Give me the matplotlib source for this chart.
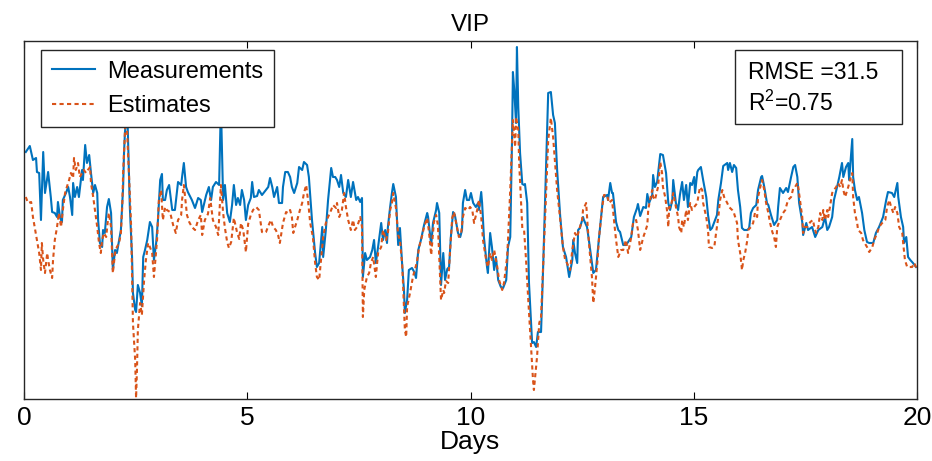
import matplotlib
matplotlib.use("Agg")
import matplotlib.pyplot as plt
from matplotlib.patches import Rectangle

# VIP concentration over 20 days: measured vs. model estimate
meas_days = [
    0.04, 0.13, 0.20, 0.27, 0.29, 0.34, 0.38, 0.43, 0.47, 0.54, 0.60, 0.63, 0.69, 0.74, 0.76, 0.81,
    0.85, 0.87, 0.94, 0.99, 1.03, 1.08, 1.10, 1.14, 1.19, 1.23, 1.30, 1.32, 1.37, 1.41, 1.46, 1.50,
    1.55, 1.59, 1.64, 1.66, 1.70, 1.75, 1.77, 1.81, 1.86, 1.90, 1.95, 1.99, 2.04, 2.08, 2.13, 2.17,
    2.22, 2.24, 2.26, 2.31, 2.33, 2.37, 2.42, 2.44, 2.49, 2.51, 2.55, 2.60, 2.64, 2.67, 2.71, 2.76,
    2.82, 2.87, 2.91, 2.96, 3.00, 3.05, 3.09, 3.11, 3.16, 3.20, 3.25, 3.32, 3.38, 3.45, 3.52, 3.54,
    3.58, 3.63, 3.67, 3.76, 3.83, 3.90, 3.96, 3.99, 4.08, 4.14, 4.19, 4.23, 4.30, 4.37, 4.41, 4.46,
    4.50, 4.55, 4.61, 4.66, 4.70, 4.75, 4.79, 4.84, 4.88, 4.93, 4.97, 5.02, 5.08, 5.11, 5.15, 5.22,
    5.26, 5.33, 5.40, 5.47, 5.51, 5.56, 5.60, 5.67, 5.71, 5.78, 5.80, 5.85, 5.91, 5.96, 6.00, 6.05,
    6.12, 6.16, 6.23, 6.27, 6.34, 6.38, 6.45, 6.52, 6.56, 6.61, 6.68, 6.70, 6.76, 6.81, 6.88, 6.92,
    6.97, 7.01, 7.06, 7.10, 7.15, 7.21, 7.26, 7.32, 7.37, 7.44, 7.48, 7.53, 7.57, 7.59, 7.64, 7.68,
    7.75, 7.80, 7.84, 7.88, 7.93, 8.00, 8.04, 8.09, 8.13, 8.15, 8.20, 8.24, 8.27, 8.33, 8.38, 8.42,
    8.47, 8.51, 8.53, 8.58, 8.62, 8.69, 8.74, 8.78, 8.83, 8.89, 8.96, 9.03, 9.05, 9.12, 9.16, 9.23,
    9.25, 9.30, 9.34, 9.39, 9.43, 9.48, 9.52, 9.56, 9.61, 9.65, 9.72, 9.77, 9.81, 9.83, 9.88, 9.92,
    9.97, 10.01, 10.06, 10.12, 10.17, 10.19, 10.24, 10.26, 10.30, 10.37, 10.39, 10.44, 10.48, 10.53, 10.57, 10.62,
    10.68, 10.73, 10.80, 10.84, 10.89, 10.93, 10.95, 10.98, 11.02, 11.04, 11.07, 11.11, 11.16, 11.20, 11.22, 11.27,
    11.31, 11.38, 11.42, 11.47, 11.51, 11.58, 11.63, 11.69, 11.74, 11.80, 11.85, 11.89, 11.94, 12.01, 12.07, 12.14,
    12.21, 12.28, 12.30, 12.34, 12.39, 12.41, 12.45, 12.52, 12.54, 12.61, 12.66, 12.75, 12.81, 12.88, 12.97, 13.06,
    13.08, 13.13, 13.17, 13.19, 13.26, 13.31, 13.35, 13.42, 13.48, 13.53, 13.60, 13.66, 13.73, 13.75, 13.80, 13.87,
    13.93, 13.96, 14.00, 14.07, 14.09, 14.13, 14.18, 14.25, 14.31, 14.38, 14.43, 14.47, 14.52, 14.54, 14.60, 14.65,
    14.69, 14.74, 14.78, 14.83, 14.87, 14.92, 14.96, 15.01, 15.03, 15.08, 15.10, 15.16, 15.21, 15.28, 15.32, 15.37,
    15.41, 15.46, 15.52, 15.55, 15.61, 15.66, 15.75, 15.77, 15.81, 15.86, 15.90, 15.95, 15.99, 16.04, 16.08, 16.13,
    16.20, 16.24, 16.28, 16.33, 16.40, 16.44, 16.51, 16.53, 16.58, 16.64, 16.67, 16.73, 16.80, 16.87, 16.89, 16.93,
    17.00, 17.07, 17.11, 17.18, 17.23, 17.27, 17.32, 17.36, 17.43, 17.45, 17.52, 17.56, 17.65, 17.72, 17.79, 17.88,
    17.94, 17.99, 18.03, 18.10, 18.14, 18.21, 18.26, 18.32, 18.35, 18.41, 18.46, 18.48, 18.55, 18.57, 18.61, 18.66,
    18.70, 18.77, 18.82, 18.88, 18.93, 19.02, 19.08, 19.15, 19.24, 19.31, 19.35, 19.44, 19.49, 19.56, 19.58, 19.64,
    19.69, 19.71, 19.76, 19.80, 19.85, 19.91, 19.98,
]
meas_vals = [
    247, 253, 239, 241, 227, 226, 179, 247, 206, 227, 202, 187, 186, 182, 197, 181,
    177, 199, 206, 212, 202, 184, 216, 202, 212, 202, 229, 219, 254, 236, 244, 226,
    206, 214, 206, 179, 156, 152, 169, 166, 192, 200, 186, 129, 149, 146, 159, 169,
    212, 246, 266, 294, 259, 192, 142, 106, 89, 87, 114, 106, 93, 142, 149, 159,
    177, 172, 139, 156, 179, 219, 225, 199, 199, 209, 214, 189, 189, 217, 214, 222,
    236, 212, 207, 199, 191, 201, 199, 187, 204, 212, 199, 212, 217, 214, 295, 199,
    214, 186, 177, 194, 214, 194, 201, 194, 209, 199, 179, 194, 201, 217, 202, 203,
    209, 204, 208, 212, 221, 212, 202, 212, 196, 196, 212, 227, 227, 222, 212, 206,
    216, 232, 229, 237, 234, 222, 179, 146, 132, 136, 172, 142, 169, 199, 231, 222,
    222, 219, 212, 224, 206, 202, 219, 202, 217, 199, 202, 197, 201, 122, 146, 139,
    142, 149, 159, 136, 152, 176, 159, 169, 156, 172, 192, 206, 215, 202, 154, 171,
    134, 109, 86, 99, 129, 131, 127, 121, 149, 159, 174, 186, 182, 154, 176, 189,
    196, 186, 114, 146, 119, 130, 132, 162, 187, 184, 166, 162, 169, 196, 209, 199,
    199, 206, 196, 192, 196, 189, 207, 196, 162, 132, 126, 166, 152, 129, 142, 119,
    112, 111, 119, 152, 162, 259, 327, 309, 276, 352, 292, 246, 215, 214, 215, 196,
    116, 56, 57, 52, 67, 67, 136, 229, 306, 307, 284, 276, 229, 182, 152, 142,
    122, 139, 159, 146, 136, 169, 171, 182, 179, 172, 156, 126, 129, 162, 202, 204,
    199, 216, 206, 206, 177, 169, 167, 154, 154, 157, 162, 182, 191, 195, 183, 192,
    191, 205, 196, 204, 224, 212, 217, 245, 244, 226, 196, 189, 199, 219, 196, 189,
    204, 217, 199, 214, 192, 216, 214, 222, 206, 227, 229, 232, 219, 202, 184, 169,
    171, 177, 184, 199, 216, 233, 236, 229, 236, 227, 234, 231, 209, 192, 171, 169,
    169, 171, 186, 191, 194, 209, 222, 223, 212, 196, 194, 184, 174, 179, 192, 211,
    206, 211, 207, 222, 232, 234, 222, 196, 177, 164, 176, 169, 172, 162, 169, 172,
    182, 169, 172, 182, 199, 212, 222, 236, 222, 232, 236, 219, 260, 222, 209, 199,
    202, 186, 169, 157, 156, 156, 166, 172, 182, 199, 207, 206, 202, 216, 202, 182,
    172, 156, 162, 142, 139, 136, 132,
]

est_days = [
    0.04, 0.09, 0.16, 0.20, 0.25, 0.29, 0.34, 0.38, 0.40, 0.43, 0.47, 0.52, 0.54, 0.58, 0.63, 0.65,
    0.69, 0.74, 0.78, 0.83, 0.87, 0.92, 0.96, 1.01, 1.05, 1.10, 1.12, 1.16, 1.21, 1.25, 1.30, 1.34,
    1.39, 1.43, 1.48, 1.50, 1.55, 1.59, 1.64, 1.68, 1.72, 1.75, 1.79, 1.84, 1.88, 1.90, 1.95, 1.99,
    2.04, 2.08, 2.13, 2.17, 2.20, 2.22, 2.26, 2.28, 2.31, 2.35, 2.40, 2.42, 2.44, 2.49, 2.51, 2.53,
    2.55, 2.60, 2.64, 2.69, 2.73, 2.78, 2.82, 2.87, 2.91, 2.98, 3.02, 3.07, 3.11, 3.16, 3.20, 3.27,
    3.34, 3.40, 3.45, 3.52, 3.54, 3.58, 3.65, 3.70, 3.76, 3.83, 3.90, 3.96, 3.99, 4.05, 4.12, 4.17,
    4.23, 4.30, 4.35, 4.41, 4.46, 4.50, 4.55, 4.59, 4.64, 4.70, 4.77, 4.82, 4.86, 4.91, 4.97, 5.02,
    5.08, 5.13, 5.20, 5.26, 5.33, 5.38, 5.42, 5.49, 5.53, 5.58, 5.64, 5.69, 5.73, 5.80, 5.87, 5.91,
    5.96, 6.00, 6.03, 6.07, 6.12, 6.18, 6.23, 6.27, 6.32, 6.36, 6.41, 6.47, 6.52, 6.56, 6.61, 6.68,
    6.70, 6.76, 6.81, 6.88, 6.92, 6.99, 7.01, 7.06, 7.12, 7.17, 7.21, 7.26, 7.32, 7.37, 7.41, 7.46,
    7.53, 7.57, 7.59, 7.62, 7.68, 7.73, 7.77, 7.82, 7.88, 7.93, 8.00, 8.04, 8.11, 8.15, 8.20, 8.24,
    8.27, 8.33, 8.38, 8.42, 8.47, 8.49, 8.53, 8.56, 8.58, 8.65, 8.71, 8.80, 8.85, 8.92, 8.96, 9.03,
    9.07, 9.12, 9.18, 9.23, 9.27, 9.34, 9.39, 9.41, 9.45, 9.50, 9.54, 9.59, 9.63, 9.70, 9.74, 9.79,
    9.83, 9.88, 9.95, 9.99, 10.04, 10.08, 10.15, 10.19, 10.24, 10.28, 10.35, 10.39, 10.44, 10.48, 10.53, 10.60,
    10.64, 10.71, 10.75, 10.82, 10.84, 10.89, 10.93, 10.95, 11.00, 11.02, 11.07, 11.09, 11.16, 11.20, 11.24, 11.29,
    11.36, 11.40, 11.42, 11.49, 11.54, 11.58, 11.63, 11.69, 11.74, 11.80, 11.85, 11.89, 11.94, 12.01, 12.07, 12.12,
    12.16, 12.23, 12.28, 12.34, 12.39, 12.43, 12.50, 12.52, 12.59, 12.63, 12.68, 12.72, 12.75, 12.79, 12.84, 12.88,
    12.95, 12.99, 13.06, 13.10, 13.17, 13.22, 13.26, 13.31, 13.37, 13.42, 13.48, 13.53, 13.60, 13.64, 13.71, 13.75,
    13.80, 13.87, 13.91, 13.96, 13.98, 14.02, 14.07, 14.09, 14.13, 14.20, 14.25, 14.29, 14.31, 14.36, 14.40, 14.43,
    14.45, 14.49, 14.54, 14.60, 14.65, 14.67, 14.72, 14.74, 14.78, 14.83, 14.87, 14.92, 14.96, 15.01, 15.08, 15.10,
    15.14, 15.19, 15.21, 15.28, 15.32, 15.34, 15.41, 15.46, 15.50, 15.55, 15.59, 15.64, 15.68, 15.75, 15.79, 15.86,
    15.90, 15.97, 15.99, 16.04, 16.08, 16.11, 16.15, 16.20, 16.22, 16.28, 16.33, 16.37, 16.42, 16.44, 16.49, 16.53,
    16.58, 16.62, 16.67, 16.71, 16.76, 16.80, 16.84, 16.87, 16.93, 17.00, 17.05, 17.11, 17.18, 17.23, 17.27, 17.32,
    17.34, 17.38, 17.43, 17.45, 17.49, 17.54, 17.61, 17.67, 17.70, 17.74, 17.79, 17.83, 17.88, 17.90, 17.94, 17.99,
    18.01, 18.05, 18.10, 18.14, 18.19, 18.23, 18.28, 18.32, 18.35, 18.39, 18.44, 18.46, 18.50, 18.55, 18.57, 18.61,
    18.66, 18.68, 18.75, 18.79, 18.88, 18.93, 19.00, 19.04, 19.11, 19.15, 19.22, 19.29, 19.33, 19.38, 19.42, 19.47,
    19.51, 19.56, 19.60, 19.67, 19.69, 19.73, 19.78, 19.82, 19.89, 19.94, 20.00,
]
est_vals = [
    202, 196, 197, 182, 169, 159, 146, 129, 156, 139, 126, 146, 139, 129, 121, 139,
    159, 172, 186, 172, 189, 206, 212, 219, 226, 221, 241, 229, 236, 222, 226, 229,
    226, 229, 232, 216, 202, 189, 172, 156, 146, 159, 166, 162, 179, 186, 172, 126,
    146, 152, 156, 166, 192, 226, 266, 299, 266, 226, 172, 126, 76, 39, 1, 29,
    69, 96, 84, 119, 139, 156, 152, 146, 122, 159, 199, 209, 179, 192, 189, 187,
    174, 166, 179, 184, 199, 214, 184, 177, 172, 169, 179, 184, 164, 179, 185, 201,
    179, 172, 164, 214, 186, 171, 157, 151, 157, 181, 167, 160, 176, 169, 147, 175,
    184, 189, 192, 189, 167, 166, 167, 175, 179, 172, 169, 164, 156, 176, 187, 186,
    189, 182, 166, 172, 179, 189, 196, 206, 214, 199, 176, 162, 136, 122, 119, 152,
    162, 176, 182, 189, 194, 191, 196, 182, 189, 206, 192, 179, 169, 179, 169, 172,
    182, 172, 82, 109, 122, 126, 136, 142, 122, 146, 152, 169, 159, 166, 189, 196,
    206, 191, 164, 159, 134, 114, 69, 62, 92, 107, 122, 137, 152, 164, 172, 181,
    167, 144, 177, 184, 174, 99, 109, 106, 118, 116, 146, 181, 187, 171, 162, 166,
    182, 191, 189, 192, 189, 176, 189, 199, 182, 159, 139, 132, 146, 139, 149, 132,
    119, 109, 116, 142, 159, 209, 256, 279, 252, 282, 269, 236, 171, 169, 142, 102,
    49, 19, 9, 42, 76, 82, 136, 202, 259, 281, 262, 239, 209, 179, 152, 139,
    136, 129, 149, 166, 162, 169, 179, 189, 196, 169, 142, 122, 96, 112, 136, 162,
    192, 204, 204, 196, 199, 176, 159, 142, 149, 149, 159, 146, 162, 176, 179, 169,
    149, 162, 167, 174, 189, 199, 209, 202, 199, 212, 237, 226, 212, 202, 189, 172,
    192, 192, 206, 192, 182, 172, 166, 179, 172, 189, 179, 196, 189, 192, 196, 202,
    212, 209, 196, 182, 169, 152, 151, 152, 166, 182, 199, 209, 202, 196, 192, 189,
    186, 176, 159, 146, 129, 139, 146, 159, 169, 172, 176, 186, 182, 202, 212, 219,
    209, 196, 186, 176, 167, 162, 152, 172, 179, 186, 189, 199, 202, 211, 212, 216,
    212, 199, 182, 166, 172, 172, 177, 179, 172, 166, 172, 186, 179, 189, 179, 189,
    182, 192, 206, 209, 212, 216, 212, 219, 209, 202, 209, 212, 219, 226, 202, 186,
    176, 169, 166, 159, 152, 147, 152, 159, 166, 172, 176, 179, 192, 199, 192, 186,
    192, 186, 172, 166, 156, 139, 132, 132, 132, 136, 129,
]

x_ticks = [0, 5, 10, 15, 20]
x_ticklabels = ["0", "5", "10", "15", "20"]
series_names = ["Measurements", "Estimates"]
rmse_value = 31.5
r2_value = 0.75

plt.rcParams["font.family"] = ["Liberation Sans", "DejaVu Sans"]
plt.rcParams["mathtext.fontset"] = "custom"
plt.rcParams["mathtext.rm"] = "Liberation Sans"

BLUE = "#0072BD"
ORANGE = "#D95319"

fig = plt.figure(figsize=(9.32, 4.61), dpi=100)
ax = fig.add_axes([24 / 932, 1 - 399 / 461, 893 / 932, 358 / 461])

ax.plot(meas_days, meas_vals, color=BLUE, lw=1.5, label=series_names[0], zorder=2)
ax.plot(est_days, est_vals, color=ORANGE, lw=1.5, linestyle=(0, (2.0, 1.6)),
        label=series_names[1], zorder=3)

ax.set_xlim(0, 20)
ax.set_ylim(0, 358)
ax.set_xticks(x_ticks)
ax.set_xticklabels(x_ticklabels, fontsize=19)
ax.set_yticks([])
ax.tick_params(axis="x", direction="in", length=5, width=0.8, top=True, pad=5,
               colors="black")
for sp in ax.spines.values():
    sp.set_linewidth(1.0)
    sp.set_color("#262626")

ax.set_xlabel("Days", fontsize=19, labelpad=0)
ax.set_title("VIP", fontsize=17.5, pad=7)

leg = ax.legend(loc="upper left", bbox_to_anchor=(0.019, 0.975), borderaxespad=0,
                fontsize=17, frameon=True, fancybox=False, handlelength=1.85,
                handletextpad=0.5, borderpad=0.45, labelspacing=0.52)
leg.get_frame().set_edgecolor("#262626")
leg.get_frame().set_linewidth(1.0)
leg.get_frame().set_alpha(1.0)

# fit statistics box
ax.add_patch(Rectangle((0.796, 0.768), 0.187, 0.207, transform=ax.transAxes,
                       facecolor="white", edgecolor="#262626", lw=1.0, zorder=6))
ax.text(0.8105, 0.913, f"RMSE ={rmse_value}", transform=ax.transAxes, fontsize=16.5,
        va="center", ha="left", zorder=7)
ax.text(0.8105, 0.825, f"R$^2$={r2_value:.2f}", transform=ax.transAxes, fontsize=16.5,
        va="center", ha="left", zorder=7)

fig.savefig("out.png", dpi=100, facecolor="white")
